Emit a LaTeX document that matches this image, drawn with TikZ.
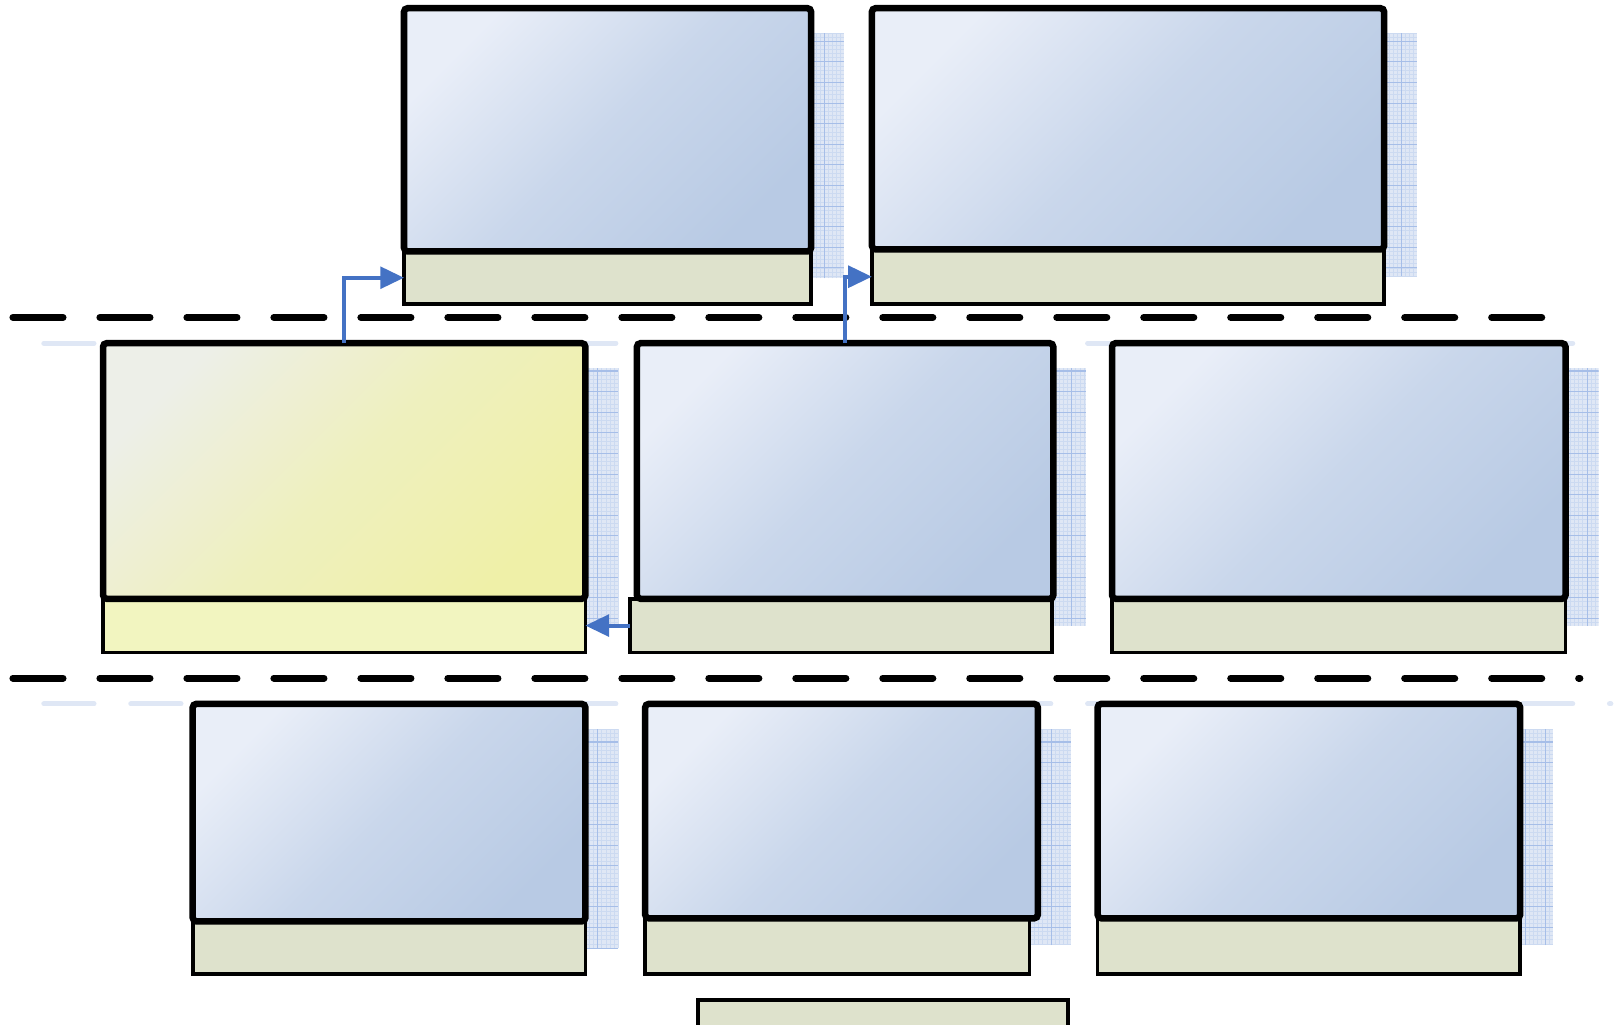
\documentclass[tikz,border=0pt]{standalone}
\usetikzlibrary{arrows.meta,calc,backgrounds}
\definecolor{boxlight}{HTML}{E9EEF8}
\definecolor{boxdark}{HTML}{B8CAE4}
\definecolor{sellight}{HTML}{EDEFE8}
\definecolor{seldark}{HTML}{EFF0A8}
\definecolor{capfill}{HTML}{DEE2CC}
\definecolor{selcap}{HTML}{F2F5C0}
\definecolor{shadefill}{HTML}{DFE7F5}
\definecolor{gridminor}{HTML}{CCDAF1}
\definecolor{gridmajor}{HTML}{A6BEE8}
\definecolor{flowblue}{HTML}{4472C4}
\begin{document}
\begin{tikzpicture}[
  orgmain/.style = {draw, line width=1.8pt, rounded corners=1pt, anchor=north west,
    inner sep=0pt, outer sep=0pt, top color=boxlight, bottom color=boxdark,
    middle color=boxdark!65!boxlight, shading angle=45},
  orgsel/.style = {orgmain, top color=sellight, bottom color=seldark,
    middle color=seldark!65!sellight, shading angle=45},
  orgcap/.style = {draw, line width=1pt, fill=capfill, anchor=north west,
    inner sep=0pt, outer sep=0pt},
  orgsep/.style = {line width=1.9pt, line cap=round, dash pattern=on 0.487cm off 0.357cm},
  orgsepshade/.style = {orgsep, line width=1.4pt, shadefill},
  orgflow/.style = {line width=1.1pt, flowblue, -{Triangle[length=0.23cm, width=0.21cm]}}
]
  \useasboundingbox (0,0) rectangle (15.68,-9.94);
  % separators
  \draw[orgsep] (0.125,-3.08) coordinate (sepa) -- (14.96,-3.08) coordinate (sepb);
  \draw[orgsep] (0.125,-6.58) coordinate (sepc) -- (15.33,-6.58) coordinate (sepd);
  % captions
  \node[orgcap, minimum width=3.95cm, minimum height=0.51cm] (top1cap) at (3.92,-2.44) {};
  \node[orgcap, minimum width=4.97cm, minimum height=0.53cm] (top2cap) at (8.46,-2.42) {};
  \node[orgcap, fill=selcap, minimum width=4.68cm, minimum height=0.52cm] (selcap) at (1.00,-5.81) {};
  \node[orgcap, minimum width=4.10cm, minimum height=0.52cm] (midcap) at (6.11,-5.81) {};
  \node[orgcap, minimum width=4.40cm, minimum height=0.52cm] (rightcap) at (10.79,-5.81) {};
  \node[orgcap, minimum width=3.81cm, minimum height=0.51cm] (bot1cap) at (1.87,-8.94) {};
  \node[orgcap, minimum width=3.73cm, minimum height=0.54cm] (bot2cap) at (6.26,-8.91) {};
  \node[orgcap, minimum width=4.10cm, minimum height=0.54cm] (bot3cap) at (10.65,-8.91) {};
  \node[orgcap, minimum width=3.59cm, minimum height=0.60cm] (lastcap) at (6.77,-9.70) {};
  % boxes
  \node[orgmain, minimum width=3.95cm, minimum height=2.36cm] (top1) at (3.92,-0.08) {};
  \node[orgmain, minimum width=4.97cm, minimum height=2.34cm] (top2) at (8.46,-0.08) {};
  \node[orgsel, minimum width=4.68cm, minimum height=2.48cm] (sel) at (1.00,-3.33) {};
  \node[orgmain, minimum width=4.04cm, minimum height=2.48cm] (mid) at (6.18,-3.33) {};
  \node[orgmain, minimum width=4.40cm, minimum height=2.48cm] (right) at (10.79,-3.33) {};
  \node[orgmain, minimum width=3.81cm, minimum height=2.11cm] (bot1) at (1.87,-6.83) {};
  \node[orgmain, minimum width=3.81cm, minimum height=2.08cm] (bot2) at (6.26,-6.83) {};
  \node[orgmain, minimum width=4.10cm, minimum height=2.08cm] (bot3) at (10.65,-6.83) {};
  % shadows
  \begin{scope}[on background layer]
    \draw[orgsepshade] ($(sepa)+(0.30,-0.25)$) -- ($(sepb)+(0.30,-0.25)$);
    \draw[orgsepshade] ($(sepc)+(0.30,-0.25)$) -- ($(sepd)+(0.30,-0.25)$);
    \foreach \n in {top1,top2,sel,mid,right,bot1,bot2,bot3} {
      \coordinate (\n-sa) at ($(\n.north west)+(0.32,-0.24)$);
      \coordinate (\n-sb) at ($(\n.south east)+(0.32,-0.26)$);
      \begin{scope}
        \clip (\n-sa) rectangle (\n-sb);
        \fill[shadefill] (\n-sa) rectangle (\n-sb);
        \draw[gridminor, line width=0.2pt, step=0.04] (\n-sa) grid (\n-sb);
        \draw[gridmajor, line width=0.3pt, step=0.2] (\n-sa) grid (\n-sb);
      \end{scope}
    }
  \end{scope}
  % links
  \draw[orgflow] (sel.north) |- (top1cap.west);
  \draw[orgflow] (mid.north) |- (top2cap.west);
  \draw[orgflow] (midcap.west) -- (selcap.east);
\end{tikzpicture}
\end{document}
